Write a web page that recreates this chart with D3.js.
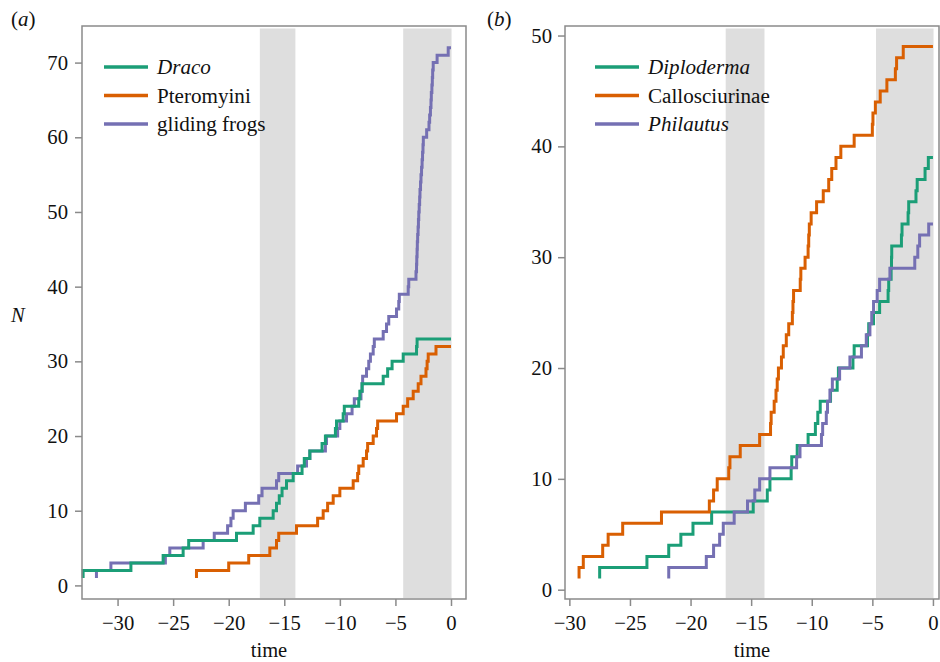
<!DOCTYPE html>
<html>
<head>
<meta charset="utf-8">
<script src="https://cdn.jsdelivr.net/npm/d3@7"></script>
</head>
<body style="margin:0;background:#fff">
<svg id="chart" width="940" height="662" font-family="Liberation Serif" font-size="20.5"></svg>
<script>
// times (Ma) at which the lineage count reaches 1, 2, 3, ... (first entry = root)
var dracoTimes = [-33.1, -33.1, -28.8, -25.9, -24.1, -23.6, -19.3, -17.8, -17.2, -16.0, -15.7, -15.45,
  -15.2, -14.8, -14.2, -13.4, -13.2, -12.7, -11.6, -11.3, -10.4, -10.3, -9.7, -9.6, -8.3, -8.2, -8.0,
  -6.1, -5.7, -5.3, -4.3, -3.1, -3.05];
var pteromyiniTimes = [-22.9, -22.9, -20.0, -18.2, -16.3, -15.7, -15.5, -13.9, -12.0, -11.5, -11.1, -10.6,
  -10.0, -8.8, -8.4, -8.3, -7.9, -7.6, -7.5, -7.0, -6.7, -6.6, -4.9, -4.3, -3.9, -3.4, -2.95, -2.7,
  -2.25, -2.15, -2.05, -1.35];
var frogTimes = [-31.9, -31.9, -30.6, -25.7, -25.3, -22.3, -21.3, -20.1, -19.8, -19.6, -18.5, -17.3,
  -17.0, -15.7, -15.5, -13.8, -13.0, -12.7, -11.3, -11.2, -10.2, -10.0, -9.4, -8.9, -8.7, -8.1, -8.0,
  -7.95, -7.6, -7.4, -7.25, -7.0, -6.9, -6.1, -5.8, -5.6, -4.9, -4.7, -4.65, -3.85, -3.8, -3.15, -3.1,
  -3.08, -3.05, -3.03, -3.0, -2.96, -2.93, -2.9, -2.86, -2.82, -2.79, -2.74, -2.7, -2.65, -2.6, -2.56,
  -2.52, -2.49, -2.19, -1.98, -1.92, -1.85, -1.8, -1.77, -1.72, -1.68, -1.65, -1.6, -1.25, -0.25];

var diplodermaTimes = [-27.5, -27.5, -23.6, -21.8, -20.8, -19.8, -18.26, -14.83, -13.67, -13.45, -11.7,
  -11.65, -11.2, -10.3, -9.7, -9.5, -9.3, -8.45, -7.9, -7.8, -6.6, -6.5, -5.4, -5.3, -4.9, -4.4, -3.7,
  -3.65, -3.45, -3.42, -3.4, -2.6, -2.55, -2.05, -2.0, -1.4, -1.3, -0.65, -0.38];
var callosciurinaeTimes = [-29.2, -29.2, -28.85, -27.25, -26.8, -25.6, -22.4, -18.45, -18.1, -17.8, -16.85,
  -16.75, -15.9, -14.3, -13.4, -13.35, -13.1, -12.95, -12.85, -12.75, -12.5, -12.35, -12.1, -11.9,
  -11.6, -11.55, -11.5, -10.95, -10.9, -10.55, -10.3, -10.25, -10.2, -10.05, -9.6, -9.05, -8.6, -8.35,
  -8.0, -7.6, -6.5, -5.0, -4.95, -4.75, -4.35, -3.8, -3.1, -3.0, -2.45];
var philautusTimes = [-21.8, -21.8, -18.7, -18.1, -17.6, -17.3, -16.4, -15.3, -14.7, -14.3, -13.45, -11.25,
  -10.97, -9.2, -9.1, -8.8, -8.7, -8.5, -8.3, -7.7, -6.85, -5.9, -5.5, -5.2, -5.05, -4.9, -4.6, -4.4,
  -3.55, -1.5, -1.25, -1.1, -0.35];

var shadedA = [[-17.2, -14.0], [-4.3, 0.05]];
var shadedB = [[-17.1, -13.9], [-4.7, 0.05]];
var xTicks = [-30, -25, -20, -15, -10, -5, 0];
var yTicksA = [0, 10, 20, 30, 40, 50, 60, 70];
var yTicksB = [0, 10, 20, 30, 40, 50];

var colGreen = '#1b9e77', colOrange = '#d95f02', colPurple = '#7570b3';
var FONT = 'Liberation Serif';

var svg = d3.select('#chart');

function toSteps(times) {
  var pts = times.map(function(t, i) { return [t, i + 1]; });
  pts.push([0, times.length]);
  return pts;
}

function txt(sel, size) {
  return sel.attr('font-family', FONT).attr('font-size', size || 20.5).attr('fill', '#111');
}

function drawPanel(opts) {
  var x = d3.scaleLinear().domain(opts.xDomain).range([opts.left, opts.right]);
  var y = d3.scaleLinear().domain(opts.yDomain).range([opts.bottom, opts.top]);
  var g = svg.append('g');

  // shaded climate intervals
  g.selectAll('rect.shade').data(opts.shaded).enter()
    .append('rect').attr('class', 'shade')
    .attr('x', function(d) { return x(d[0]); })
    .attr('width', function(d) { return x(d[1]) - x(d[0]); })
    .attr('y', opts.top + 2.5)
    .attr('height', opts.bottom - opts.top - 3.5)
    .attr('fill', '#dedede');

  var line = d3.line()
    .x(function(d) { return x(d[0]); })
    .y(function(d) { return y(d[1]); })
    .curve(d3.curveStepAfter);

  g.selectAll('path.ltt').data(opts.series).enter()
    .append('path').attr('class', 'ltt')
    .attr('d', function(s) { return line(toSteps(s.times)); })
    .attr('fill', 'none')
    .attr('stroke', function(s) { return s.color; })
    .attr('stroke-width', 3);

  // axes
  var xAxis = g.append('g').attr('transform', 'translate(0,' + opts.bottom + ')')
    .call(d3.axisBottom(x).tickValues(xTicks).tickSize(7).tickPadding(9));
  var yAxis = g.append('g').attr('transform', 'translate(' + opts.left + ',0)')
    .call(d3.axisLeft(y).tickValues(opts.yTicks).tickSize(7).tickPadding(opts.yPad));
  [xAxis, yAxis].forEach(function(ax) {
    ax.attr('font-family', FONT).attr('font-size', 20.5);
    ax.select('.domain').remove();
    ax.selectAll('line').attr('stroke', '#8a8a8a').attr('stroke-width', 1.5);
    txt(ax.selectAll('text'), 20.7);
  });

  g.append('rect')
    .attr('x', opts.left).attr('y', opts.top)
    .attr('width', opts.right - opts.left).attr('height', opts.bottom - opts.top)
    .attr('fill', 'none').attr('stroke', '#8a8a8a').attr('stroke-width', 1.5);

  txt(g.append('text')).attr('x', opts.timeX).attr('y', 657)
    .attr('text-anchor', 'middle').text('time');

  var lab = txt(g.append('text'), 21).attr('x', opts.labelX).attr('y', 26);
  lab.append('tspan').text('(');
  lab.append('tspan').attr('font-style', 'italic').text(opts.label);
  lab.append('tspan').text(')');

  // legend
  var leg = g.selectAll('g.leg').data(opts.series.slice().sort(function(a, b) { return a.order - b.order; }))
    .enter().append('g').attr('class', 'leg')
    .attr('transform', function(d, i) { return 'translate(' + opts.legX + ',' + (67 + i * 28.5) + ')'; });
  leg.append('line').attr('x1', 0).attr('x2', 44)
    .attr('stroke', function(d) { return d.color; }).attr('stroke-width', 3.5);
  txt(leg.append('text'), 21.1).attr('x', 53).attr('y', 7)
    .attr('font-style', function(d) { return d.italic ? 'italic' : 'normal'; })
    .text(function(d) { return d.name; });
}

drawPanel({
  left: 82, right: 466, top: 26, bottom: 599,
  xDomain: [-33.2, 1.35], yDomain: [-1.82, 74.9],
  yTicks: yTicksA, yPad: 7, shaded: shadedA,
  timeX: 269, labelX: 11, label: 'a', legX: 104,
  series: [
    { name: 'gliding frogs', times: frogTimes, color: colPurple, order: 2 },
    { name: 'Pteromyini', times: pteromyiniTimes, color: colOrange, order: 1 },
    { name: 'Draco', times: dracoTimes, color: colGreen, order: 0, italic: true }
  ]
});

drawPanel({
  left: 565, right: 939, top: 26, bottom: 599,
  xDomain: [-30.36, 0.5], yDomain: [-0.84, 50.86],
  yTicks: yTicksB, yPad: 6, shaded: shadedB,
  timeX: 752, labelX: 487, label: 'b', legX: 595,
  series: [
    { name: 'Diploderma', times: diplodermaTimes, color: colGreen, order: 0, italic: true },
    { name: 'Callosciurinae', times: callosciurinaeTimes, color: colOrange, order: 1 },
    { name: 'Philautus', times: philautusTimes, color: colPurple, order: 2, italic: true }
  ]
});

txt(svg.append('text')).attr('x', 11).attr('y', 322)
  .attr('font-style', 'italic').text('N');
</script>
</body>
</html>
